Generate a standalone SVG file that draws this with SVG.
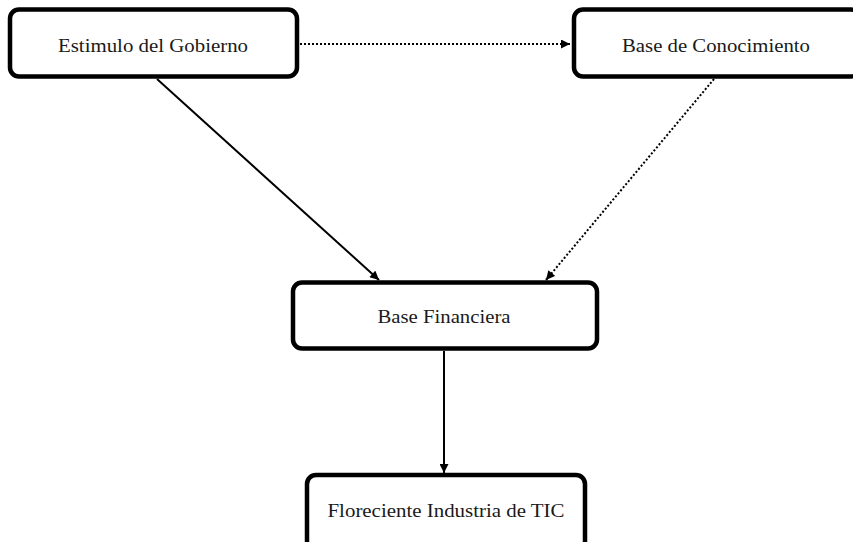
<svg xmlns="http://www.w3.org/2000/svg" width="853" height="542" viewBox="0 0 853 542">
  <style>
    .box { fill: #ffffff; stroke: #000000; stroke-width: 4.5; }
    .label { font-family: "Liberation Serif", "Times New Roman", serif; font-size: 19.5px; fill: #1a1a1a; text-anchor: middle; }
    .link { stroke: #000000; stroke-width: 2; fill: none; }
    .dotted { stroke-dasharray: 2 2; }
  </style>
  <defs>
    <marker id="arrow" viewBox="0 0 10 10" refX="10" refY="5" markerWidth="10" markerHeight="9" markerUnits="userSpaceOnUse" orient="auto">
      <path d="M0,0 L10,5 L0,10 z" fill="#000000"/>
    </marker>
  </defs>

  <g id="connectors">
    <line class="link dotted" x1="300" y1="44" x2="570" y2="44" marker-end="url(#arrow)"/>
    <line class="link" x1="157" y1="79" x2="379" y2="280" marker-end="url(#arrow)"/>
    <line class="link dotted" x1="714" y1="79" x2="546" y2="280" marker-end="url(#arrow)"/>
    <line class="link" x1="444" y1="351" x2="444" y2="473" marker-end="url(#arrow)"/>
  </g>

  <g id="estimulo">
    <rect class="box" x="10" y="9.5" width="287" height="67" rx="9"/>
    <text class="label" x="153" y="52" textLength="190" lengthAdjust="spacingAndGlyphs">Estimulo del Gobierno</text>
  </g>

  <g id="conocimiento">
    <rect class="box" x="574" y="9.5" width="286" height="67" rx="9"/>
    <text class="label" x="716" y="52" textLength="188" lengthAdjust="spacingAndGlyphs">Base de Conocimiento</text>
  </g>

  <g id="financiera">
    <rect class="box" x="293" y="282.5" width="304" height="66" rx="9"/>
    <text class="label" x="444" y="323" textLength="133" lengthAdjust="spacingAndGlyphs">Base Financiera</text>
  </g>

  <g id="industria">
    <rect class="box" x="307" y="475" width="278" height="80" rx="9"/>
    <text class="label" x="446" y="517" textLength="237" lengthAdjust="spacingAndGlyphs">Floreciente Industria de TIC</text>
  </g>
</svg>
